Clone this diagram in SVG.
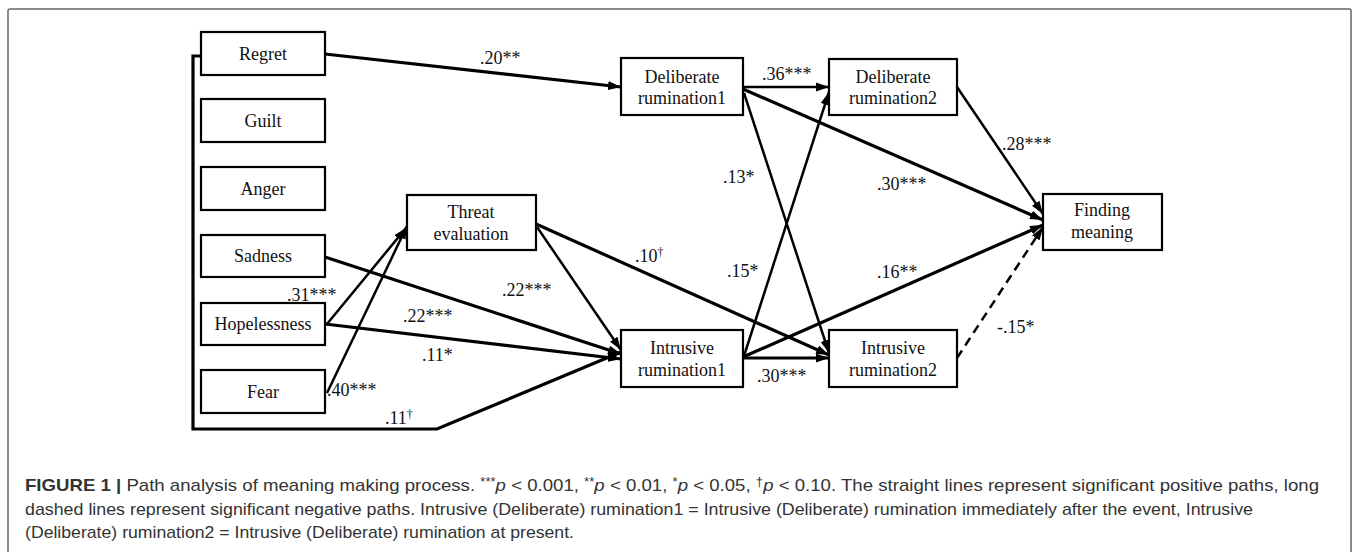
<svg xmlns="http://www.w3.org/2000/svg" width="1357" height="552" viewBox="0 0 1357 552">
<style>
.box{fill:#fff;stroke:#000;stroke-width:2.2}
.lbl{font-family:"Liberation Serif","Times New Roman",serif;font-size:18px;fill:#111;text-anchor:middle}
.el{font-family:"Liberation Serif","Times New Roman",serif;font-size:18px;fill:#111}
.sup{font-size:12px}
.c{fill:none;stroke:#000;stroke-width:2.5}
.t{stroke-width:3.2}
.arr{marker-end:url(#ah)}
.cap{font-family:"Liberation Sans",Arial,sans-serif;font-size:17px;fill:#333}
</style>
<defs>
<marker id="ah" markerUnits="userSpaceOnUse" markerWidth="14" markerHeight="10" refX="13" refY="5" orient="auto">
<path d="M0,0.5 L13,5 L0,9.5 z" fill="#000"/>
</marker>
</defs>
<rect x="8" y="9" width="1343" height="570" rx="2" fill="#fff" stroke="#666" stroke-width="1.5"/>

<g id="connectors">
<path class="c t arr" d="M325,54 L621,87"/>
<path class="c arr" d="M743,87 L829,87"/>
<path class="c t arr" d="M743,89 L1043,220"/>
<path class="c arr" d="M744,93 L829,353"/>
<path class="c arr" d="M744,356 L829,92"/>
<path class="c t arr" d="M743,357 L1043,225"/>
<path class="c t arr" d="M743,358 L829,358"/>
<path class="c t arr" d="M536,224 L829,355"/>
<path class="c arr" d="M537,227 L621,350"/>
<path class="c t arr" d="M325,257 L621,354"/>
<path class="c t arr" d="M325,324 L621,359"/>
<path class="c arr" d="M327,324 L406,228"/>
<path class="c arr" d="M327,393 L407,226"/>
<path class="c t arr" d="M201,56 L193,56 L193,429 L437,429 L621,352"/>
<path class="c arr" d="M957,87 L1043,214"/>
<path class="c arr" d="M957,358 L1043,227" stroke-dasharray="9,6"/>
</g>

<g id="edge-labels">
<text class="el" x="480" y="64">.20**</text>
<text class="el" x="762" y="80">.36***</text>
<text class="el" x="877" y="190">.30***</text>
<text class="el" x="723" y="183">.13*</text>
<text class="el" x="1002" y="150">.28***</text>
<text class="el" x="635" y="262">.10<tspan class="sup" dy="-6">†</tspan></text>
<text class="el" x="727" y="277">.15*</text>
<text class="el" x="877" y="278">.16**</text>
<text class="el" x="502" y="296">.22***</text>
<text class="el" x="287" y="301">.31***</text>
<text class="el" x="403" y="322">.22***</text>
<text class="el" x="422" y="361">.11*</text>
<text class="el" x="757" y="382">.30***</text>
<text class="el" x="997" y="333">-.15*</text>
<text class="el" x="327" y="396">.40***</text>
<text class="el" x="385" y="424">.11<tspan class="sup" dy="-6">†</tspan></text>
</g>

<g id="regret"><rect class="box" x="201" y="32" width="124" height="43"/><text class="lbl" x="263" y="60">Regret</text></g>
<g id="guilt"><rect class="box" x="201" y="99" width="124" height="43"/><text class="lbl" x="263" y="127">Guilt</text></g>
<g id="anger"><rect class="box" x="201" y="167" width="124" height="43"/><text class="lbl" x="263" y="195">Anger</text></g>
<g id="sadness"><rect class="box" x="201" y="235" width="124" height="42"/><text class="lbl" x="263" y="262">Sadness</text></g>
<g id="hopelessness"><rect class="box" x="201" y="303" width="124" height="42"/><text class="lbl" x="263" y="330">Hopelessness</text></g>
<g id="fear"><rect class="box" x="201" y="370" width="124" height="43"/><text class="lbl" x="263" y="398">Fear</text></g>
<g id="threat-evaluation"><rect class="box" x="407" y="195" width="129" height="55"/><text class="lbl" x="471" y="218">Threat</text><text class="lbl" x="471" y="240">evaluation</text></g>
<g id="deliberate-rumination1"><rect class="box" x="621" y="58" width="122" height="57"/><text class="lbl" x="682" y="83">Deliberate</text><text class="lbl" x="682" y="104">rumination1</text></g>
<g id="deliberate-rumination2"><rect class="box" x="829" y="59" width="128" height="56"/><text class="lbl" x="893" y="83">Deliberate</text><text class="lbl" x="893" y="104">rumination2</text></g>
<g id="intrusive-rumination1"><rect class="box" x="621" y="330" width="122" height="57"/><text class="lbl" x="682" y="354">Intrusive</text><text class="lbl" x="682" y="376">rumination1</text></g>
<g id="intrusive-rumination2"><rect class="box" x="829" y="330" width="128" height="57"/><text class="lbl" x="893" y="354">Intrusive</text><text class="lbl" x="893" y="376">rumination2</text></g>
<g id="finding-meaning"><rect class="box" x="1043" y="194" width="119" height="56"/><text class="lbl" x="1102" y="216">Finding</text><text class="lbl" x="1102" y="238">meaning</text></g>

<g id="caption">
<text class="cap" x="25" y="491" textLength="1294" lengthAdjust="spacingAndGlyphs"><tspan font-weight="bold">FIGURE 1 | </tspan>Path analysis of meaning making process. <tspan font-size="12" dy="-5">***</tspan><tspan font-style="italic" dy="5">p</tspan> &lt; 0.001, <tspan font-size="12" dy="-5">**</tspan><tspan font-style="italic" dy="5">p</tspan> &lt; 0.01, <tspan font-size="12" dy="-5">*</tspan><tspan font-style="italic" dy="5">p</tspan> &lt; 0.05, <tspan font-size="12" dy="-5">†</tspan><tspan font-style="italic" dy="5">p</tspan> &lt; 0.10. The straight lines represent significant positive paths, long</text>
<text class="cap" x="25" y="515" textLength="1228" lengthAdjust="spacingAndGlyphs">dashed lines represent significant negative paths. Intrusive (Deliberate) rumination1 = Intrusive (Deliberate) rumination immediately after the event, Intrusive</text>
<text class="cap" x="25" y="538" textLength="549" lengthAdjust="spacingAndGlyphs">(Deliberate) rumination2 = Intrusive (Deliberate) rumination at present.</text>
</g>
</svg>
